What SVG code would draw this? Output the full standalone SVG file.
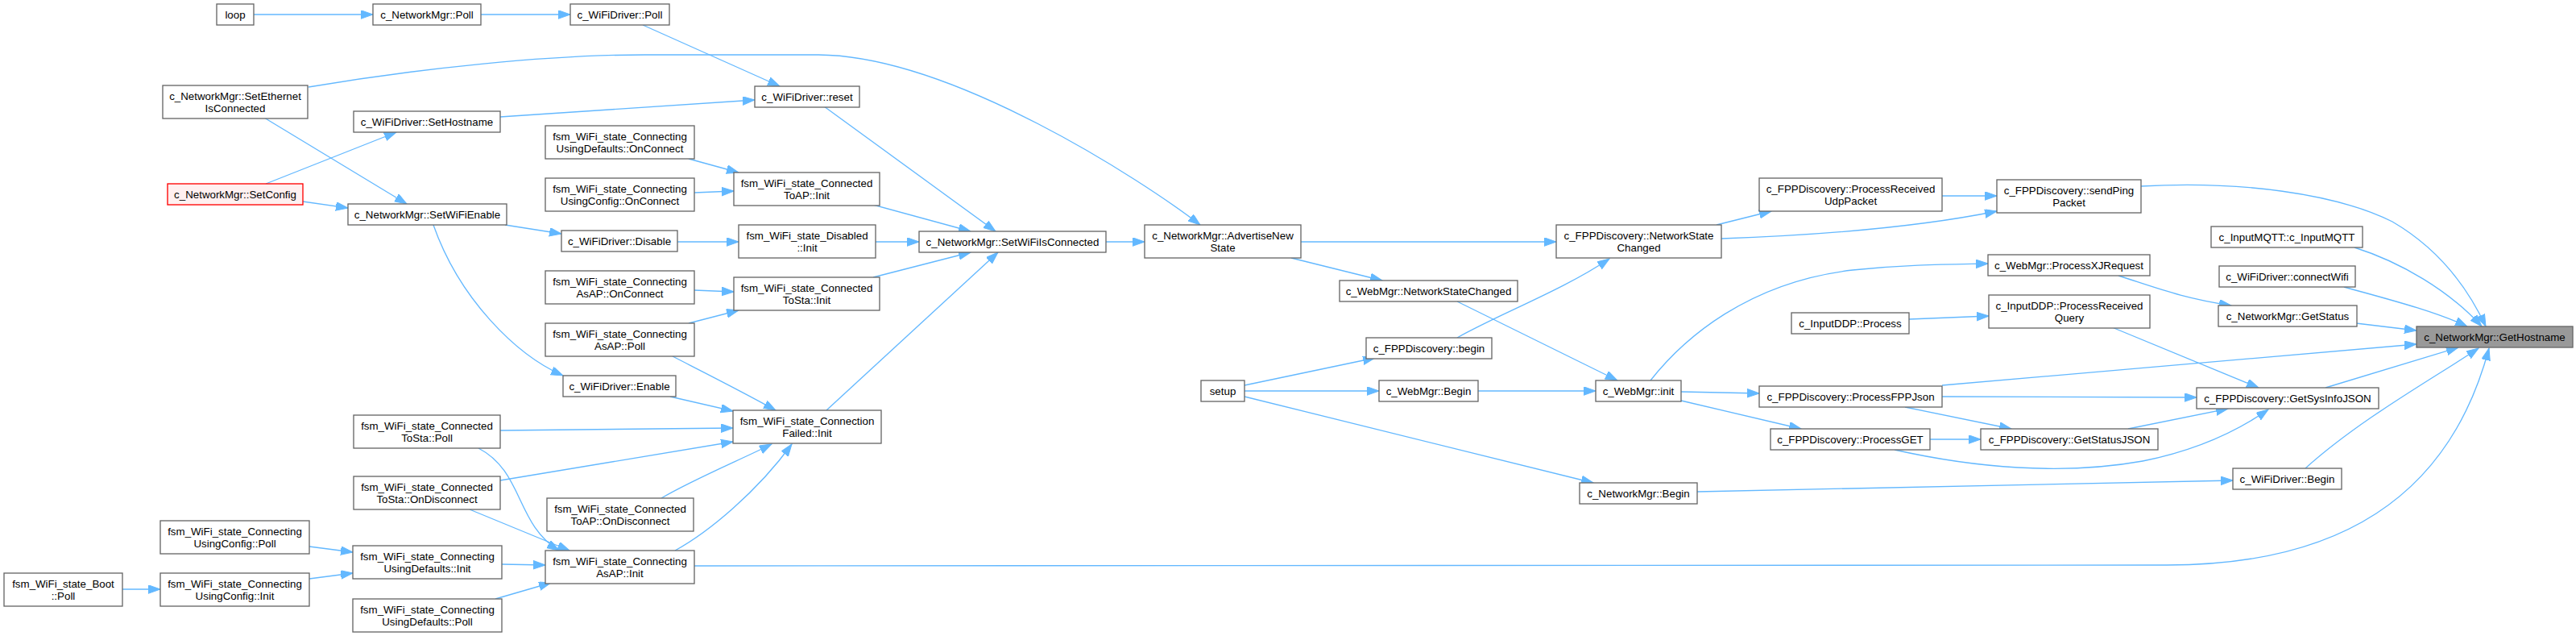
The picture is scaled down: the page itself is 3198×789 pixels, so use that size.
<svg xmlns="http://www.w3.org/2000/svg" width="3198" height="789" viewBox="0 0 3198 789">
<style>
.n rect{fill:#fff;stroke:#666;stroke-width:1.33}
.n text{font-family:"Liberation Sans",Arial,Helvetica,sans-serif;font-size:13.33px;text-anchor:middle;fill:#000}
.n.red rect{fill:#fff0f0;stroke:#ff0000}
.n.cur rect{fill:#999;stroke:#666}
.e path{fill:none;stroke:#63b8ff;stroke-width:1.33;marker-end:url(#ah)}
</style>
<defs>
<marker id="ah" markerUnits="userSpaceOnUse" markerWidth="16" markerHeight="12" refX="15" refY="5.3" orient="auto">
<path d="M0,0 L15,5.3 L0,10.6 z" fill="#63b8ff" stroke="#63b8ff" stroke-width="1"/>
</marker>
</defs>
<rect width="3198" height="789" fill="#fff"/>
<g id="edges" class="e">
<path d="M315,18 L463,18"/>
<path d="M597,18 L708,18"/>
<path d="M798,31 L968,107"/>
<path d="M383,108 C520,85 680,68 800,68 L1014,68 C1180,68 1420,225 1490,279"/>
<path d="M328,146 L505,253"/>
<path d="M621,145 L937,124"/>
<path d="M330,228 L492,164"/>
<path d="M376,250 L432,258"/>
<path d="M627,279 L697,290"/>
<path d="M538,279 C570,370 640,440 699,466"/>
<path d="M855,197 L917,214"/>
<path d="M862,239 L911,237"/>
<path d="M841,300 L917,300"/>
<path d="M862,360 L911,362"/>
<path d="M855,401 L917,385"/>
<path d="M835,442 C870,460 920,485 963,509"/>
<path d="M832,492 L910,510"/>
<path d="M621,534 L910,531"/>
<path d="M621,596 L910,548"/>
<path d="M821,618 C860,595 920,570 958,551"/>
<path d="M838,683 C880,660 940,610 983,551"/>
<path d="M594,556 C650,585 640,650 694,683"/>
<path d="M583,632 L707,683"/>
<path d="M384,678 L438,685"/>
<path d="M384,718 L438,711"/>
<path d="M152,731 L199,731"/>
<path d="M623,700 L677,701"/>
<path d="M615,743 L684,723"/>
<path d="M862,702 L2690,701 C2900,701 3040,620 3090,432"/>
<path d="M1084,254 L1205,287"/>
<path d="M1023,132 L1236,287"/>
<path d="M1087,300 L1141,300"/>
<path d="M1084,344 L1205,313"/>
<path d="M1026,509 L1239,313"/>
<path d="M1373,300 L1421,300"/>
<path d="M1615,300 L1932,300"/>
<path d="M1603,320 L1716,348"/>
<path d="M2131,279 L2199,262"/>
<path d="M2137,296 C2250,292 2380,282 2479,262"/>
<path d="M2411,243 L2479,243"/>
<path d="M2658,231 C2780,224 2900,240 2970,275 C3030,310 3065,360 3086,405"/>
<path d="M1809,374 L2008,472"/>
<path d="M1809,419 C1860,390 1940,360 1998,321"/>
<path d="M1545,478 L1707,444"/>
<path d="M1545,485 L1712,485"/>
<path d="M1545,492 L1978,599"/>
<path d="M1835,485 L1981,485"/>
<path d="M2049,472 C2090,420 2170,350 2300,335 C2370,328 2420,328 2468,327"/>
<path d="M2087,486 L2184,488"/>
<path d="M2087,497 L2236,532"/>
<path d="M2370,396 L2469,392"/>
<path d="M2411,492 L2727,493"/>
<path d="M2365,505 L2497,532"/>
<path d="M2411,478 L3000,427"/>
<path d="M2396,545 L2459,545"/>
<path d="M2352,558 C2450,580 2560,590 2660,572 C2720,560 2770,540 2816,508"/>
<path d="M2622,406 L2804,481"/>
<path d="M2642,532 L2766,507"/>
<path d="M2887,481 L3052,431"/>
<path d="M2630,342 C2680,358 2710,370 2770,379"/>
<path d="M2925,401 L3000,410"/>
<path d="M2923,307 C2980,325 3040,360 3081,405"/>
<path d="M2910,356 C2960,370 3020,385 3063,405"/>
<path d="M2862,581 C2930,520 3020,470 3077,432"/>
<path d="M2107,610 L2772,596"/>
</g>
<g id="node1" class="n"><rect x="269" y="5" width="46" height="26"/><text x="292" y="23">loop</text></g>
<g id="node2" class="n"><rect x="463" y="5" width="134" height="26"/><text x="530" y="23">c_NetworkMgr::Poll</text></g>
<g id="node3" class="n"><rect x="708" y="5" width="123" height="26"/><text x="769.5" y="23">c_WiFiDriver::Poll</text></g>
<g id="node4" class="n"><rect x="202" y="106" width="180" height="41"/><text x="292" y="124">c_NetworkMgr::SetEthernet<tspan x="292" y="139">IsConnected</tspan></text></g>
<g id="node5" class="n"><rect x="439" y="138" width="182" height="26"/><text x="530" y="156">c_WiFiDriver::SetHostname</text></g>
<g id="node6" class="n"><rect x="677" y="156" width="185" height="41"/><text x="769.5" y="174">fsm_WiFi_state_Connecting<tspan x="769.5" y="189">UsingDefaults::OnConnect</tspan></text></g>
<g id="node7" class="n"><rect x="677" y="221" width="185" height="41"/><text x="769.5" y="239">fsm_WiFi_state_Connecting<tspan x="769.5" y="254">UsingConfig::OnConnect</tspan></text></g>
<g id="node8" class="n red"><rect x="208" y="228" width="168" height="26"/><text x="292" y="246">c_NetworkMgr::SetConfig</text></g>
<g id="node9" class="n"><rect x="432" y="253" width="197" height="26"/><text x="530.5" y="271">c_NetworkMgr::SetWiFiEnable</text></g>
<g id="node10" class="n"><rect x="697" y="286" width="144" height="26"/><text x="769" y="304">c_WiFiDriver::Disable</text></g>
<g id="node11" class="n"><rect x="677" y="336" width="185" height="41"/><text x="769.5" y="354">fsm_WiFi_state_Connecting<tspan x="769.5" y="369">AsAP::OnConnect</tspan></text></g>
<g id="node12" class="n"><rect x="677" y="401" width="185" height="41"/><text x="769.5" y="419">fsm_WiFi_state_Connecting<tspan x="769.5" y="434">AsAP::Poll</tspan></text></g>
<g id="node13" class="n"><rect x="699" y="466" width="140" height="26"/><text x="769" y="484">c_WiFiDriver::Enable</text></g>
<g id="node14" class="n"><rect x="439" y="515" width="182" height="41"/><text x="530" y="533">fsm_WiFi_state_Connected<tspan x="530" y="548">ToSta::Poll</tspan></text></g>
<g id="node15" class="n"><rect x="439" y="591" width="182" height="41"/><text x="530" y="609">fsm_WiFi_state_Connected<tspan x="530" y="624">ToSta::OnDisconnect</tspan></text></g>
<g id="node16" class="n"><rect x="679" y="618" width="182" height="41"/><text x="770" y="636">fsm_WiFi_state_Connected<tspan x="770" y="651">ToAP::OnDisconnect</tspan></text></g>
<g id="node17" class="n"><rect x="199" y="646" width="185" height="41"/><text x="291.5" y="664">fsm_WiFi_state_Connecting<tspan x="291.5" y="679">UsingConfig::Poll</tspan></text></g>
<g id="node18" class="n"><rect x="438" y="677" width="185" height="41"/><text x="530.5" y="695">fsm_WiFi_state_Connecting<tspan x="530.5" y="710">UsingDefaults::Init</tspan></text></g>
<g id="node19" class="n"><rect x="677" y="683" width="185" height="41"/><text x="769.5" y="701">fsm_WiFi_state_Connecting<tspan x="769.5" y="716">AsAP::Init</tspan></text></g>
<g id="node20" class="n"><rect x="5" y="711" width="147" height="41"/><text x="78.5" y="729">fsm_WiFi_state_Boot<tspan x="78.5" y="744">::Poll</tspan></text></g>
<g id="node21" class="n"><rect x="199" y="711" width="185" height="41"/><text x="291.5" y="729">fsm_WiFi_state_Connecting<tspan x="291.5" y="744">UsingConfig::Init</tspan></text></g>
<g id="node22" class="n"><rect x="438" y="743" width="185" height="41"/><text x="530.5" y="761">fsm_WiFi_state_Connecting<tspan x="530.5" y="776">UsingDefaults::Poll</tspan></text></g>
<g id="node23" class="n"><rect x="937" y="107" width="130" height="26"/><text x="1002" y="125">c_WiFiDriver::reset</text></g>
<g id="node24" class="n"><rect x="911" y="214" width="181" height="41"/><text x="1001.5" y="232">fsm_WiFi_state_Connected<tspan x="1001.5" y="247">ToAP::Init</tspan></text></g>
<g id="node25" class="n"><rect x="917" y="279" width="170" height="41"/><text x="1002" y="297">fsm_WiFi_state_Disabled<tspan x="1002" y="312">::Init</tspan></text></g>
<g id="node26" class="n"><rect x="1141" y="287" width="232" height="26"/><text x="1257" y="305">c_NetworkMgr::SetWiFiIsConnected</text></g>
<g id="node27" class="n"><rect x="1421" y="279" width="194" height="41"/><text x="1518" y="297">c_NetworkMgr::AdvertiseNew<tspan x="1518" y="312">State</tspan></text></g>
<g id="node28" class="n"><rect x="911" y="344" width="181" height="41"/><text x="1001.5" y="362">fsm_WiFi_state_Connected<tspan x="1001.5" y="377">ToSta::Init</tspan></text></g>
<g id="node29" class="n"><rect x="910" y="509" width="184" height="41"/><text x="1002" y="527">fsm_WiFi_state_Connection<tspan x="1002" y="542">Failed::Init</tspan></text></g>
<g id="node30" class="n"><rect x="1491" y="472" width="54" height="26"/><text x="1518" y="490">setup</text></g>
<g id="node31" class="n"><rect x="1932" y="279" width="205" height="41"/><text x="2034.5" y="297">c_FPPDiscovery::NetworkState<tspan x="2034.5" y="312">Changed</tspan></text></g>
<g id="node32" class="n"><rect x="2184" y="221" width="227" height="41"/><text x="2297.5" y="239">c_FPPDiscovery::ProcessReceived<tspan x="2297.5" y="254">UdpPacket</tspan></text></g>
<g id="node33" class="n"><rect x="1663" y="348" width="221" height="26"/><text x="1773.5" y="366">c_WebMgr::NetworkStateChanged</text></g>
<g id="node34" class="n"><rect x="2224" y="388" width="146" height="26"/><text x="2297" y="406">c_InputDDP::Process</text></g>
<g id="node35" class="n"><rect x="1696" y="419" width="156" height="26"/><text x="1774" y="437">c_FPPDiscovery::begin</text></g>
<g id="node36" class="n"><rect x="1712" y="472" width="123" height="26"/><text x="1773.5" y="490">c_WebMgr::Begin</text></g>
<g id="node37" class="n"><rect x="1981" y="472" width="106" height="26"/><text x="2034" y="490">c_WebMgr::init</text></g>
<g id="node38" class="n"><rect x="2184" y="479" width="227" height="26"/><text x="2297.5" y="497">c_FPPDiscovery::ProcessFPPJson</text></g>
<g id="node39" class="n"><rect x="2198" y="532" width="198" height="26"/><text x="2297" y="550">c_FPPDiscovery::ProcessGET</text></g>
<g id="node40" class="n"><rect x="1961" y="599" width="146" height="26"/><text x="2034" y="617">c_NetworkMgr::Begin</text></g>
<g id="node41" class="n"><rect x="2479" y="223" width="179" height="41"/><text x="2568.5" y="241">c_FPPDiscovery::sendPing<tspan x="2568.5" y="256">Packet</tspan></text></g>
<g id="node42" class="n"><rect x="2745" y="281" width="188" height="26"/><text x="2839" y="299">c_InputMQTT::c_InputMQTT</text></g>
<g id="node43" class="n"><rect x="2468" y="316" width="201" height="26"/><text x="2568.5" y="334">c_WebMgr::ProcessXJRequest</text></g>
<g id="node44" class="n"><rect x="2755" y="330" width="169" height="26"/><text x="2839.5" y="348">c_WiFiDriver::connectWifi</text></g>
<g id="node45" class="n"><rect x="2469" y="366" width="200" height="41"/><text x="2569" y="384">c_InputDDP::ProcessReceived<tspan x="2569" y="399">Query</tspan></text></g>
<g id="node46" class="n"><rect x="2754" y="379" width="172" height="26"/><text x="2840" y="397">c_NetworkMgr::GetStatus</text></g>
<g id="node47" class="n cur"><rect x="3000" y="405" width="194" height="26"/><text x="3097" y="423">c_NetworkMgr::GetHostname</text></g>
<g id="node48" class="n"><rect x="2727" y="481" width="226" height="26"/><text x="2840" y="499">c_FPPDiscovery::GetSysInfoJSON</text></g>
<g id="node49" class="n"><rect x="2459" y="532" width="220" height="26"/><text x="2569" y="550">c_FPPDiscovery::GetStatusJSON</text></g>
<g id="node50" class="n"><rect x="2772" y="581" width="135" height="26"/><text x="2839.5" y="599">c_WiFiDriver::Begin</text></g>
</svg>
